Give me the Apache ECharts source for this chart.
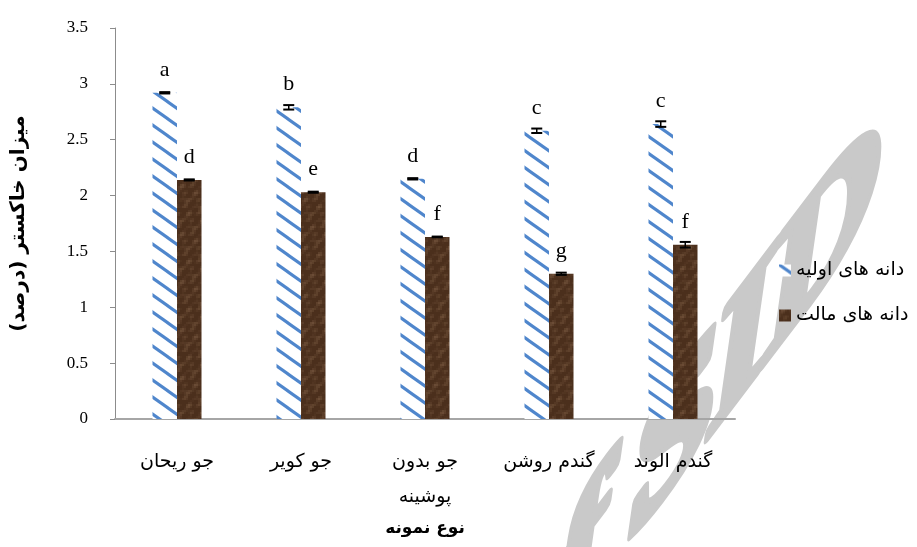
<!DOCTYPE html>
<html>
<head>
<meta charset="utf-8">
<script src="https://cdn.jsdelivr.net/npm/echarts@6/dist/echarts.min.js"></script>
<style>html,body{margin:0;padding:0;background:#fff}#c{width:917px;height:547px}</style>
</head>
<body>
<div id="c"></div>
<script>
const categories = ['جو ریحان', 'جو کویر', 'جو بدون\nپوشینه', 'گندم روشن', 'گندم الوند'];
const seriesNames = ['دانه های اولیه', 'دانه های مالت'];
const initialValues = [2.92, 2.79, 2.15, 2.58, 2.64];
const maltValues = [2.14, 2.03, 1.63, 1.30, 1.56];
const initialErr = [0.006, 0.02, 0.006, 0.02, 0.025];
const maltErr = [0.005, 0.005, 0.003, 0.01, 0.025];
const initialLetters = ['a', 'b', 'd', 'c', 'c'];
const maltLetters = ['d', 'e', 'f', 'g', 'f'];
const yTicks = [0, 0.5, 1, 1.5, 2, 2.5, 3, 3.5];
const watermarkText = 'of SID';

function stripePattern() {
  const w = 24, h = 17;
  const c = document.createElement('canvas');
  c.width = w; c.height = h;
  const g = c.getContext('2d');
  g.fillStyle = '#ffffff';
  g.fillRect(0, 0, w, h);
  g.strokeStyle = '#4f86cc';
  g.lineWidth = 3.1;
  for (let k = -1; k <= 1; k++) {
    g.beginPath();
    g.moveTo(-w, k * h - h);
    g.lineTo(2 * w, k * h + 2 * h);
    g.stroke();
  }
  return c;
}
function brownPattern() {
  const s = 48;
  const c = document.createElement('canvas');
  c.width = s; c.height = s;
  const g = c.getContext('2d');
  g.fillStyle = '#4b2f1c';
  g.fillRect(0, 0, s, s);
  for (let y = 0; y < s; y += 2) {
    for (let x = 0; x < s; x += 2) {
      const tx = x * 2 * Math.PI / s, ty = y * 2 * Math.PI / s;
      const v = Math.sin(3 * tx + ty) * Math.cos(2 * ty - tx) + 0.7 * Math.sin(5 * tx + 4 * ty) + 0.5 * Math.cos(7 * ty);
      const a = Math.max(0, v + 0.3) * 0.16;
      g.fillStyle = 'rgba(165,130,100,' + a.toFixed(3) + ')';
      g.fillRect(x, y, 2, 2);
    }
  }
  return c;
}
function watermarkCanvas() {
  const c = document.createElement('canvas');
  c.width = 917; c.height = 547;
  const g = c.getContext('2d');
  g.setTransform(1, -1.32, 0, 1, 480, 738);
  g.font = 'italic bold 160px "Liberation Serif", serif';
  try { g.letterSpacing = '-8px'; } catch (e) {}
  g.fillStyle = '#c9c9c9';
  g.strokeStyle = '#c9c9c9';
  g.lineWidth = 10;
  g.lineJoin = 'round';
  g.strokeText(watermarkText, 0, 0);
  g.fillText(watermarkText, 0, 0);
  return c;
}

const blueFill = { image: stripePattern(), repeat: 'repeat' };
const brownFill = { image: brownPattern(), repeat: 'repeat' };

const BW = 24.5;
function errSeries(vals, errs, offset) {
  return {
    type: 'custom',
    silent: true,
    z: 5,
    data: vals.map((v, i) => [i, v, errs[i]]),
    renderItem: function (params, api) {
      const i = api.value(0), v = api.value(1), e = api.value(2);
      const top = api.coord([i, v + e]);
      const bot = api.coord([i, v - e]);
      const x = top[0] + offset;
      const cw = 5.5;
      return {
        type: 'group',
        children: [
          { type: 'line', shape: { x1: x, y1: top[1], x2: x, y2: bot[1] }, style: { stroke: '#000', lineWidth: 1.5 } },
          { type: 'line', shape: { x1: x - cw, y1: top[1], x2: x + cw, y2: top[1] }, style: { stroke: '#000', lineWidth: 2 } },
          { type: 'line', shape: { x1: x - cw, y1: bot[1], x2: x + cw, y2: bot[1] }, style: { stroke: '#000', lineWidth: 2 } }
        ]
      };
    }
  };
}

const serifFont = '"Liberation Serif", "Times New Roman", "DejaVu Serif", serif';
const arFont = '"DejaVu Sans", "Liberation Serif", serif';

const chart = echarts.init(document.getElementById('c'));
chart.setOption({
  animation: false,
  backgroundColor: '#ffffff',
  graphic: [{
    type: 'image', left: 0, top: 0, z: -10, silent: true,
    style: { image: watermarkCanvas(), width: 917, height: 547 }
  }],
  grid: { left: 115, top: 28, right: 182, bottom: 128, containLabel: false },
  legend: {
    orient: 'vertical',
    left: 774,
    top: 256,
    itemWidth: 12,
    itemHeight: 12,
    itemGap: 26,
    icon: 'rect',
    textStyle: { fontFamily: arFont, fontSize: 19, color: '#000' },
    data: seriesNames
  },
  xAxis: {
    type: 'category',
    data: categories,
    name: 'نوع نمونه',
    nameLocation: 'middle',
    nameGap: 100,
    nameTextStyle: { fontFamily: arFont, fontSize: 17, fontWeight: 'bold', color: '#000' },
    axisLine: { lineStyle: { color: '#a6a6a6', width: 2 } },
    axisTick: { show: false },
    axisLabel: { fontFamily: arFont, fontSize: 19, color: '#000', margin: 26, lineHeight: 35 },
    splitLine: { show: false }
  },
  yAxis: {
    type: 'value',
    min: 0,
    max: 3.5,
    interval: 0.5,
    name: 'میزان خاکستر (درصد)',
    nameLocation: 'middle',
    nameGap: 86,
    nameTextStyle: { fontFamily: arFont, fontSize: 20, fontWeight: 'bold', color: '#000' },
    axisLine: { show: true, lineStyle: { color: '#8c8c8c', width: 1 } },
    axisTick: { show: true, inside: false, length: 5, lineStyle: { color: '#8c8c8c' } },
    axisLabel: {
      fontFamily: serifFont, fontSize: 17, color: '#000', margin: 27,
      formatter: function (v) { return yTicks.indexOf(v) >= 0 ? String(v) : ''; }
    },
    splitLine: { show: false }
  },
  series: [
    {
      name: seriesNames[0],
      type: 'bar',
      data: initialValues,
      barWidth: BW,
      barGap: '0%',
      itemStyle: { color: blueFill },
      label: {
        show: true, position: 'top', distance: 12,
        fontFamily: serifFont, fontSize: 22, color: '#000',
        formatter: function (p) { return initialLetters[p.dataIndex]; }
      }
    },
    {
      name: seriesNames[1],
      type: 'bar',
      data: maltValues,
      barWidth: BW,
      barGap: '0%',
      itemStyle: { color: brownFill },
      label: {
        show: true, position: 'top', distance: 12,
        fontFamily: serifFont, fontSize: 22, color: '#000',
        formatter: function (p) { return maltLetters[p.dataIndex]; }
      }
    },
    errSeries(initialValues, initialErr, -BW / 2),
    errSeries(maltValues, maltErr, BW / 2)
  ]
});
</script>
</body>
</html>
